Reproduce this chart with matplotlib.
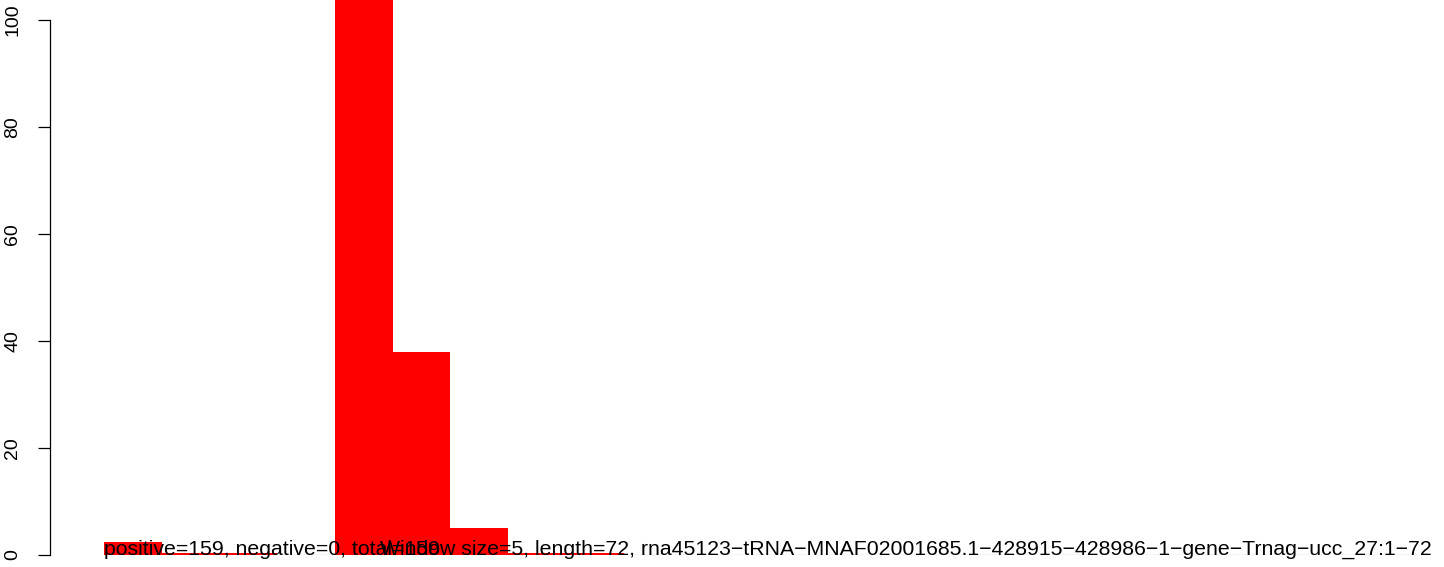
import matplotlib
matplotlib.use("Agg")
import matplotlib.pyplot as plt
import numpy as np

plt.rcParams["font.family"] = ["Liberation Sans", "DejaVu Sans"]

# window counts (first bar is clipped at the top)
heights = [2.5, 0.4, 0.4, 0, 112, 38, 5, 0.4, 0.4, 0, 0, 0,
           0, 0, 0, 0, 0, 0, 0, 0, 0, 0, 0]
yticks = [0, 20, 40, 60, 80, 100]
left_text = "positive=159, negative=0, total=159"
right_text = ("Window size=5, length=72, "
              "rna45123\u2212tRNA\u2212MNAF02001685.1\u2212428915\u2212428986"
              "\u22121\u2212gene\u2212Trnag\u2212ucc_27:1\u221272")

n = len(heights)
fig = plt.figure(figsize=(14.44, 5.67), dpi=100)
# plot region: x from 50px to 1432px, y from 555px (0) to top
ax = fig.add_axes([50/1444, 12/567, (1432-50)/1444, 555/567])
ax.set_xlim(-54/ (1328/n), n)
ax.set_ylim(0, 555/5.35)

ax.plot([0, n], [0, 0], color="#444444", lw=0.8, zorder=1)
ax.bar(np.arange(n), heights, width=1, align="edge", color="red",
       linewidth=0, zorder=2)

for s in ["top", "right", "bottom"]:
    ax.spines[s].set_visible(False)
ax.spines["left"].set_bounds(0, 100)
ax.spines["left"].set_linewidth(0.9)
ax.set_xticks([])
ax.set_yticks(yticks)
ax.set_yticklabels([str(v) for v in yticks], rotation=90, va="center",
                   fontsize=14)
ax.tick_params(axis="y", length=8.6, width=0.9, pad=12)

ax.text(0, 0, left_text, ha="left", va="baseline", fontsize=15.3, zorder=3)
ax.text(n, 0, right_text, ha="right", va="baseline", fontsize=15.3, zorder=3)

fig.savefig("out.png", dpi=100)
